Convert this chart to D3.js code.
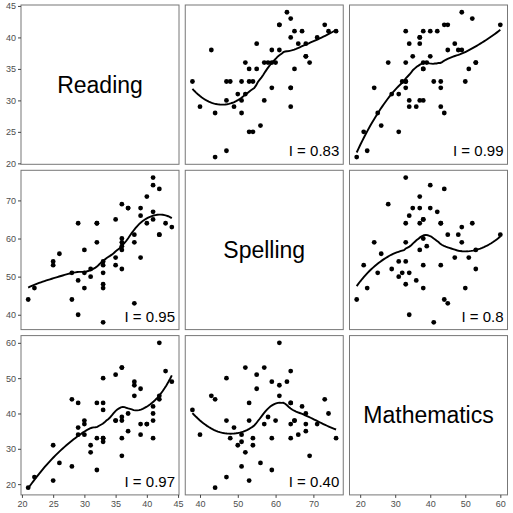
<!DOCTYPE html>
<html>
<head>
<meta charset="utf-8">
<script src="https://cdn.jsdelivr.net/npm/d3@7"></script>
<style>
  body { margin: 0; background: #fff; }
  svg { display: block; font-family: "Liberation Sans", Arial, sans-serif; }
</style>
</head>
<body>
<svg id="chart" width="513" height="513"></svg>
<script>
const varNames = ['Reading', 'Spelling', 'Mathematics'];

// one entry per student
const reading  = [21,22,25,25,26,28,28,29,29,29,30,30,30,31,31,32,32,32,33,33,33,33,33,33,35,35,35,36,36,36,36,36,36,37,37,38,38,38,39,39,39,40,40,41,41,41,41,42,42,42,43,44];
const spelling = [44,47,53,54,56,44,51,64,49,40,57,51,47,50,52,59,64,64,38,47,48,51,53,54,55,65,53,69,60,58,57,52,59,68,68,61,59,43,55,66,68,71,64,76,74,67,65,73,61,61,64,63];
const math     = [19,22,21,31,26,44,25,43,36,34,37,34,38,31,29,24,43,33,41,50,33,32,43,33,51,38,38,28,38,39,53,53,33,40,35,48,49,45,47,34,37,37,37,33,40,42,38,44,60,45,52,49];

// label in each off-diagonal cell, [row][col]
const cellLabels = [
  [null, 'I = 0.83', 'I = 0.99'],
  ['I = 0.95', null, 'I = 0.8'],
  ['I = 0.97', 'I = 0.40', null]
];
const tickValues = [
  [20, 25, 30, 35, 40, 45],
  [40, 50, 60, 70],
  [20, 30, 40, 50, 60]
];

const columns = [reading, spelling, math];

const marginLeft = 21, marginTop = 5;
const pw = 158, ph = 159.3;
const gapX = 6.25, gapY = 6;
const span = 0.75;

const svg = d3.select('#chart');

function cellX(c) { return marginLeft + c * (pw + gapX); }
function cellY(r) { return marginTop + r * (ph + gapY); }

function expanded(vals) {
  const [lo, hi] = d3.extent(vals);
  const pad = (hi - lo) * 0.05;
  return [lo - pad, hi + pad];
}

// local quadratic regression with tricube weights (like R's loess)
function loess(xs, ys, alpha, nOut) {
  const n = xs.length;
  const q = Math.floor(n * alpha);
  const [x0, x1] = d3.extent(xs);
  const out = [];
  for (let k = 0; k < nOut; k++) {
    const x = x0 + (x1 - x0) * k / (nOut - 1);
    const d = xs.map(v => Math.abs(v - x));
    const h = d.slice().sort((a, b) => a - b)[q - 1] * 1.0000001;
    let s = [0, 0, 0, 0, 0], t = [0, 0, 0];
    for (let i = 0; i < n; i++) {
      const u = d[i] / h;
      if (u >= 1) continue;
      const w = Math.pow(1 - u * u * u, 3);
      const dx = xs[i] - x;
      let p = 1;
      for (let j = 0; j < 5; j++) { s[j] += w * p; if (j < 3) t[j] += w * p * ys[i]; p *= dx; }
    }
    // solve 3x3 normal equations
    const A = [[s[0], s[1], s[2]], [s[1], s[2], s[3]], [s[2], s[3], s[4]]];
    const b = t.slice();
    for (let i = 0; i < 3; i++) {
      let piv = i;
      for (let r = i + 1; r < 3; r++) if (Math.abs(A[r][i]) > Math.abs(A[piv][i])) piv = r;
      [A[i], A[piv]] = [A[piv], A[i]];
      [b[i], b[piv]] = [b[piv], b[i]];
      for (let r = i + 1; r < 3; r++) {
        const f = A[r][i] / A[i][i];
        for (let c = i; c < 3; c++) A[r][c] -= f * A[i][c];
        b[r] -= f * b[i];
      }
    }
    const beta = [0, 0, 0];
    for (let i = 2; i >= 0; i--) {
      let acc = b[i];
      for (let c = i + 1; c < 3; c++) acc -= A[i][c] * beta[c];
      beta[i] = acc / A[i][i];
    }
    out.push([x, beta[0]]);
  }
  return out;
}

for (let r = 0; r < 3; r++) {
  for (let c = 0; c < 3; c++) {
    const gx = cellX(c), gy = cellY(r);
    const g = svg.append('g').attr('transform', `translate(${gx},${gy})`);

    const xScale = d3.scaleLinear().domain(expanded(columns[c])).range([0, pw]);
    const yScale = d3.scaleLinear().domain(expanded(columns[r])).range([ph, 0]);

    if (r === c) {
      g.append('text')
        .attr('x', pw / 2)
        .attr('y', ph / 2)
        .attr('text-anchor', 'middle')
        .attr('dominant-baseline', 'central')
        .attr('font-size', 23)
        .attr('fill', '#000')
        .text(varNames[r]);
    } else {
      const xs = columns[c], ys = columns[r];
      g.selectAll('circle')
        .data(xs.map((v, i) => [v, ys[i]]))
        .enter().append('circle')
        .attr('cx', d => xScale(d[0]))
        .attr('cy', d => yScale(d[1]))
        .attr('r', 2.4)
        .attr('fill', '#000');

      const fit = loess(xs, ys, span, 80);
      g.append('path')
        .datum(fit)
        .attr('fill', 'none')
        .attr('stroke', '#000')
        .attr('stroke-width', 1.9)
        .attr('d', d3.line().x(d => xScale(d[0])).y(d => yScale(d[1])));

      g.append('text')
        .attr('x', pw - 4)
        .attr('y', ph - 8)
        .attr('text-anchor', 'end')
        .attr('font-size', 15)
        .attr('fill', '#000')
        .text(cellLabels[r][c]);
    }

    g.append('rect')
      .attr('width', pw)
      .attr('height', ph)
      .attr('fill', 'none')
      .attr('stroke', '#777')
      .attr('stroke-width', 1);

    if (c === 0) {
      const ay = g.append('g')
        .call(d3.axisLeft(yScale).tickValues(tickValues[r]).tickSize(3).tickPadding(2));
      ay.select('.domain').remove();
      ay.selectAll('line').attr('stroke', '#444');
      ay.selectAll('text').attr('fill', '#4d4d4d').attr('font-size', 9).attr('font-family', null);
    }
    if (r === 2) {
      const ax = g.append('g')
        .attr('transform', `translate(0,${ph})`)
        .call(d3.axisBottom(xScale).tickValues(tickValues[c]).tickSize(3).tickPadding(3));
      ax.select('.domain').remove();
      ax.selectAll('line').attr('stroke', '#444');
      ax.selectAll('text').attr('fill', '#4d4d4d').attr('font-size', 9).attr('font-family', null);
    }
  }
}
</script>
</body>
</html>
